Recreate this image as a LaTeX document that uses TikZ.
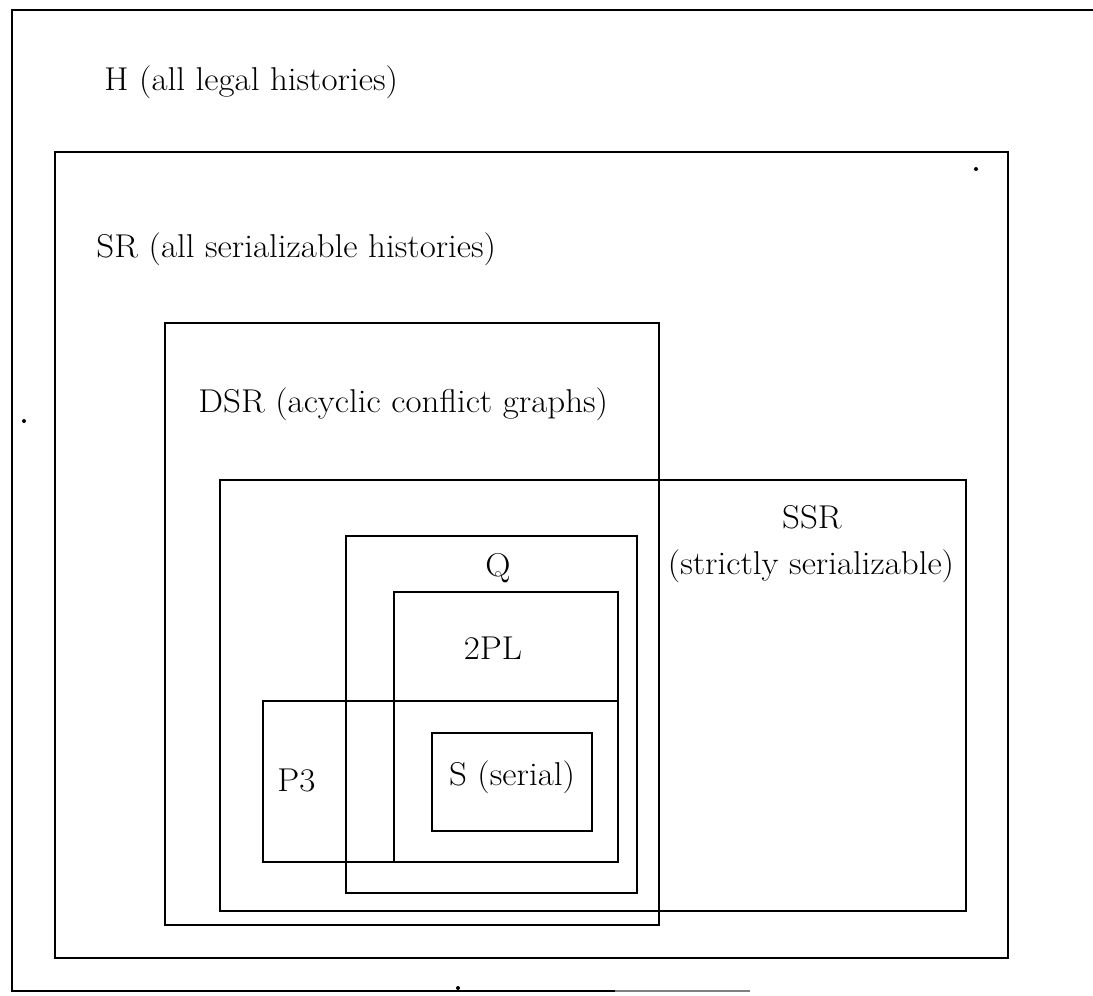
\documentclass[tikz,border=0pt]{standalone}
\newcommand{\wide}[1]{\scalebox{1.06}[1]{#1}}
\begin{document}
\begin{tikzpicture}[x=0.5pt,y=-0.5pt,
  setbox/.style={line width=1.4pt},
  lbl/.style={anchor=base west,inner sep=0pt,font=\fontsize{16.5}{19}\selectfont},
  clbl/.style={anchor=base,inner sep=0pt,font=\fontsize{16.5}{19}\selectfont},
  speck/.style={fill=black,draw=none}]
\useasboundingbox (0,0) rectangle (1093,996);
\fill[white] (0,0) rectangle (1093,996);
% H (open to the right)
\coordinate (Htl) at (12,10);
\coordinate (Hbl) at (12,991);
\coordinate (Htr) at (1100,10);
\coordinate (Hbr) at (615,991);
\coordinate (Hbe) at (750,991);
\draw[setbox] (Htr) -- (Htl) -- (Hbl) -- (Hbr);
\draw[line width=1pt,black!50] (Hbr) -- (Hbe);
% SR
\coordinate (SRa) at (55,152);   \coordinate (SRb) at (1008,958);
\draw[setbox] (SRa) rectangle (SRb);
% DSR
\coordinate (DSRa) at (165,323); \coordinate (DSRb) at (659,925);
\draw[setbox] (DSRa) rectangle (DSRb);
% SSR
\coordinate (SSRa) at (220,480); \coordinate (SSRb) at (966,911);
\draw[setbox] (SSRa) rectangle (SSRb);
% Q
\coordinate (Qa) at (346,536);   \coordinate (Qb) at (637,893);
\draw[setbox] (Qa) rectangle (Qb);
% 2PL
\coordinate (PLa) at (394,592);  \coordinate (PLb) at (618,862);
\draw[setbox] (PLa) rectangle (PLb);
% P3
\coordinate (P3a) at (263,701);  \coordinate (P3b) at (618,862);
\draw[setbox] (P3a) rectangle (P3b);
% S
\coordinate (Sa) at (432,733);   \coordinate (Sb) at (592,831);
\draw[setbox] (Sa) rectangle (Sb);
% labels
\node[lbl]  (Hl)    at (104,90)  {\wide{H (all legal histories)}};
\node[lbl]  (SRl)   at (96,257)  {\wide{SR (all serializable histories)}};
\node[lbl]  (DSRl)  at (198,412) {\wide{DSR (acyclic conflict graphs)}};
\node[clbl] (SSRl)  at (812,528) {\wide{SSR}};
\node[clbl] (SSRl2) at (811,574) {\wide{(strictly serializable)}};
\node[clbl] (Ql)    at (498,576) {\wide{Q}};
\node[clbl] (PLl)   at (493,659) {\wide{2PL}};
\node[lbl]  (P3l)   at (277,791) {\wide{P3}};
\node[clbl] (Sl)    at (512,785) {\wide{S (serial)}};
% scan specks
\fill[speck] (976,169) circle (2);
\fill[speck] (24,421) circle (2);
\fill[speck] (458,988) circle (2);
\end{tikzpicture}
\end{document}
